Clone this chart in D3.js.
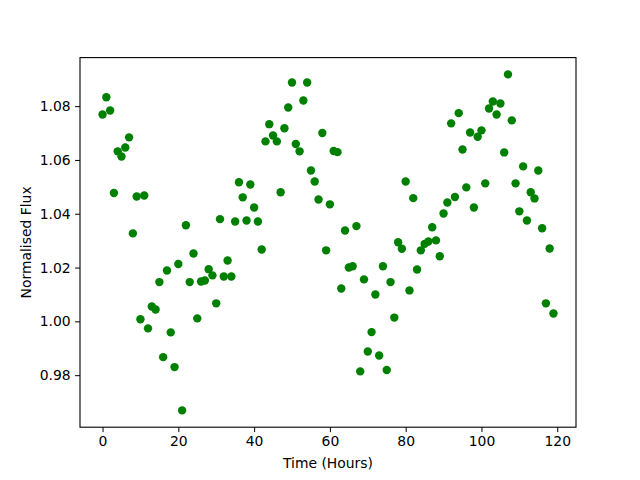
<!DOCTYPE html>
<html>
<head>
<meta charset="utf-8">
<script src="https://cdn.jsdelivr.net/npm/d3@7"></script>
<style>
  html, body { margin: 0; padding: 0; background: #fff; }
  svg text { font-family: "DejaVu Sans", sans-serif; }
</style>
</head>
<body>
<svg id="chart" width="640" height="480"></svg>
<script>
const hours = [
  0, 1, 2, 3, 4, 5, 6, 7, 8, 9,
  10, 11, 12, 13, 14, 15, 16, 17, 18, 19,
  20, 21, 22, 23, 24, 25, 26, 27, 28, 29,
  30, 31, 32, 33, 34, 35, 36, 37, 38, 39,
  40, 41, 42, 43, 44, 45, 46, 47, 48, 49,
  50, 51, 52, 53, 54, 55, 56, 57, 58, 59,
  60, 61, 62, 63, 64, 65, 66, 67, 68, 69,
  70, 71, 72, 73, 74, 75, 76, 77, 78, 79,
  80, 81, 82, 83, 84, 85, 86, 87, 88, 89,
  90, 91, 92, 93, 94, 95, 96, 97, 98, 99,
  100, 101, 102, 103, 104, 105, 106, 107, 108, 109,
  110, 111, 112, 113, 114, 115, 116, 117, 118, 119
];
const flux = [
  1.0769, 1.0833, 1.0784, 1.0477, 1.0632, 1.0613, 1.0646, 1.0684, 1.0327, 1.0464,
  1.0008, 1.0468, 0.9974, 1.0055, 1.0044, 1.0146, 0.9867, 1.0189, 0.9959, 0.9830,
  1.0213, 0.9669, 1.0357, 1.0146, 1.0252, 1.0011, 1.0148, 1.0152, 1.0194, 1.0171,
  1.0067, 1.0380, 1.0167, 1.0226, 1.0167, 1.0371, 1.0517, 1.0461, 1.0375, 1.0509,
  1.0423, 1.0371, 1.0267, 1.0669, 1.0733, 1.0691, 1.0669, 1.0480, 1.0718, 1.0795,
  1.0888, 1.0659, 1.0632, 1.0821, 1.0888, 1.0561, 1.0520, 1.0453, 1.0700, 1.0264,
  1.0435, 1.0633, 1.0629, 1.0122, 1.0338, 1.0200, 1.0205, 1.0354, 0.9814, 1.0156,
  0.9888, 0.9960, 1.0100, 0.9873, 1.0205, 0.9819, 1.0146, 1.0014, 1.0294, 1.0270,
  1.0520, 1.0115, 1.0458, 1.0193, 1.0264, 1.0288, 1.0297, 1.0350, 1.0301, 1.0242,
  1.0401, 1.0442, 1.0736, 1.0462, 1.0774, 1.0639, 1.0498, 1.0702, 1.0423, 1.0686,
  1.0710, 1.0513, 1.0791, 1.0817, 1.0769, 1.0810, 1.0628, 1.0918, 1.0747, 1.0513,
  1.0409, 1.0576, 1.0375, 1.0480, 1.0457, 1.0561, 1.0346, 1.0067, 1.0271, 1.0029
];
const xTicks = [0, 20, 40, 60, 80, 100, 120];
const yTicks = [0.98, 1.00, 1.02, 1.04, 1.06, 1.08];
const xLabel = "Time (Hours)";
const yLabel = "Normalised Flux";

const svg = d3.select("#chart");
const L = 80, T = 57.6, W = 496, H = 369.6;

function padded(ext) {
  const r = ext[1] - ext[0];
  return [ext[0] - 0.05 * r, ext[1] + 0.05 * r];
}
const x = d3.scaleLinear().domain(padded(d3.extent(hours))).range([L, L + W]);
const y = d3.scaleLinear().domain(padded(d3.extent(flux))).range([T + H, T]);

const data = hours.map((h, i) => ({ h, f: flux[i] }));

const g = svg.append("g");
g.selectAll("circle").data(data).enter().append("circle")
  .attr("cx", d => x(d.h))
  .attr("cy", d => y(d.f))
  .attr("r", 4.2)
  .attr("fill", "#008000");

const xAxis = d3.axisBottom(x).tickValues(xTicks).tickSize(4.9).tickPadding(4.5).tickFormat(d3.format("d"));
const yAxis = d3.axisLeft(y).tickValues(yTicks).tickSize(4.9).tickPadding(4.5).tickFormat(d3.format(".2f"));

const gx = svg.append("g").attr("transform", `translate(0,${T + H})`).call(xAxis);
const gy = svg.append("g").attr("transform", `translate(${L},0)`).call(yAxis);
[gx, gy].forEach(a => {
  a.select(".domain").remove();
  a.selectAll(".tick line").attr("stroke", "#000").attr("stroke-width", 1);
  a.selectAll(".tick text").attr("fill", "#000").style("font-size", "13.9px").style("font-family", "DejaVu Sans, sans-serif");
});

svg.append("rect")
  .attr("x", L).attr("y", T).attr("width", W).attr("height", H)
  .attr("fill", "none").attr("stroke", "#000").attr("stroke-width", 1.1);

svg.append("text")
  .attr("x", L + W / 2).attr("y", 468)
  .attr("text-anchor", "middle")
  .style("font-size", "13.9px")
  .text(xLabel);

svg.append("text")
  .attr("transform", `translate(31,${T + H / 2}) rotate(-90)`)
  .attr("text-anchor", "middle")
  .style("font-size", "13.9px")
  .text(yLabel);
</script>
</body>
</html>
